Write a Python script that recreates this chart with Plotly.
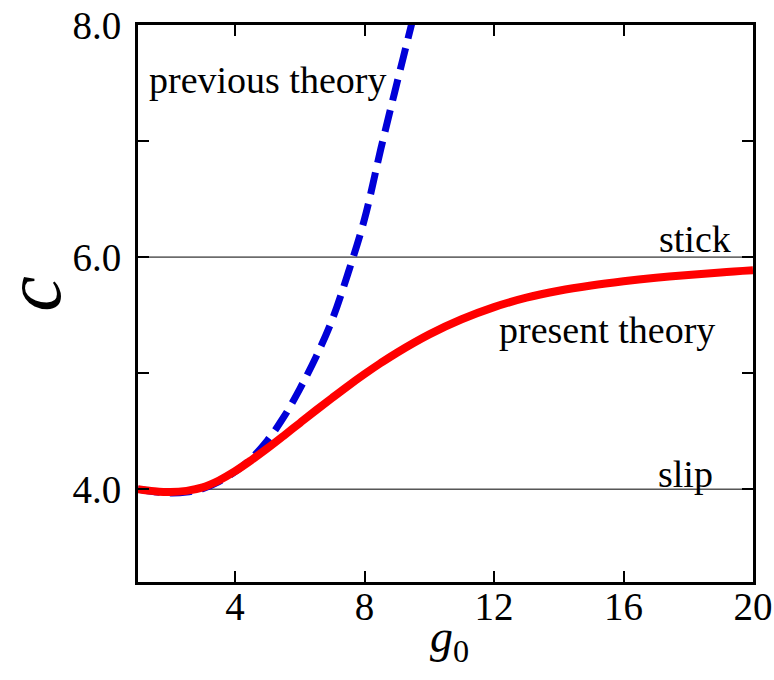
import plotly.graph_objects as go

# Wave speed c against g0 for the two theories
g0_present = [1.0, 1.5, 2.0, 2.5, 3.0, 3.5, 4.0, 4.5, 5.0, 5.5, 6.0, 6.5, 7.0, 7.5,
              8.0, 8.5, 9.0, 10.0, 11.0, 12.0, 13.0, 14.0, 15.0, 16.0, 17.0, 18.0,
              19.0, 20.0]
c_present = [4.000, 3.983, 3.975, 3.985, 4.015, 4.075, 4.155, 4.250, 4.352, 4.460,
             4.570, 4.680, 4.787, 4.892, 4.992, 5.087, 5.176, 5.334, 5.464, 5.569,
             5.650, 5.710, 5.755, 5.791, 5.821, 5.846, 5.868, 5.886]

g0_previous = [1.0, 1.5, 2.0, 2.5, 3.0, 3.5, 4.0, 4.5, 5.0, 5.5, 6.0, 6.5, 7.0, 7.5,
               8.0, 8.5, 9.0, 9.5, 9.6]
c_previous = [4.000, 3.978, 3.968, 3.975, 4.005, 4.065, 4.150, 4.265, 4.420, 4.620,
              4.865, 5.140, 5.460, 5.870, 6.330, 6.930, 7.500, 8.060, 8.170]

# Limiting values
c_slip = 4.0
c_stick = 6.0

x_ticks = [4, 8, 12, 16, 20]
x_tick_text = ["4", "8", "12", "16", "20"]
y_ticks = [4, 6, 8]
y_tick_text = ["4.0", "6.0", "8.0"]
y_minor_ticks = [5, 7]

FONT = "Liberation Serif"

fig = go.Figure()

# thin reference lines for the slip and stick limits
for level in (c_slip, c_stick):
    fig.add_trace(go.Scatter(x=[1, 20], y=[level, level], mode="lines",
                             line=dict(color="black", width=1),
                             hoverinfo="skip", showlegend=False))

fig.add_trace(go.Scatter(x=g0_previous, y=c_previous, mode="lines",
                         line=dict(color="#0000d8", width=7, dash="22px,10px",
                                   shape="spline"),
                         showlegend=False))
fig.add_trace(go.Scatter(x=g0_present, y=c_present, mode="lines",
                         line=dict(color="#ff0000", width=8, shape="spline"),
                         showlegend=False))

labels = [
    ("previous theory", 5.0, 7.53),
    ("stick", 18.2, 6.16),
    ("present theory", 15.5, 5.37),
    ("slip", 17.9, 4.13),
]
for text, x, y in labels:
    fig.add_annotation(x=x, y=y, text=text, showarrow=False,
                       xanchor="center", yanchor="middle",
                       font=dict(family=FONT, size=38, color="black"))

# axis titles
fig.add_annotation(x=-0.171, y=0.517, xref="paper", yref="paper",
                   text="<i>c</i>", textangle=-90, showarrow=False,
                   xanchor="center", yanchor="middle",
                   font=dict(family=FONT, size=80, color="black"))
fig.add_annotation(x=0.506, y=-0.104, xref="paper", yref="paper",
                   text="<i>g</i><sub>0</sub>", showarrow=False,
                   xanchor="center", yanchor="middle",
                   font=dict(family=FONT, size=46, color="black"))

axis_common = dict(
    showline=True, linecolor="black", linewidth=3, mirror="allticks",
    ticks="inside", ticklen=11, tickwidth=2, tickcolor="black",
    showgrid=False, zeroline=False, automargin=False,
    tickfont=dict(family=FONT, size=39, color="black"),
)

fig.update_xaxes(range=[1, 20], tickvals=x_ticks, ticktext=x_tick_text,
                 ticklabelstandoff=-12, **axis_common)
fig.update_yaxes(range=[3.2, 8.0], tickvals=y_ticks, ticktext=y_tick_text,
                 ticklabelstandoff=6,
                 minor=dict(tickvals=y_minor_ticks, ticks="inside", ticklen=11,
                            tickwidth=2, tickcolor="black", showgrid=False),
                 **axis_common)

fig.update_layout(
    width=774, height=680,
    margin=dict(l=138, r=21, t=25, b=98),
    paper_bgcolor="white", plot_bgcolor="white",
    font=dict(family=FONT, color="black"),
)

fig.write_html("out.html")
